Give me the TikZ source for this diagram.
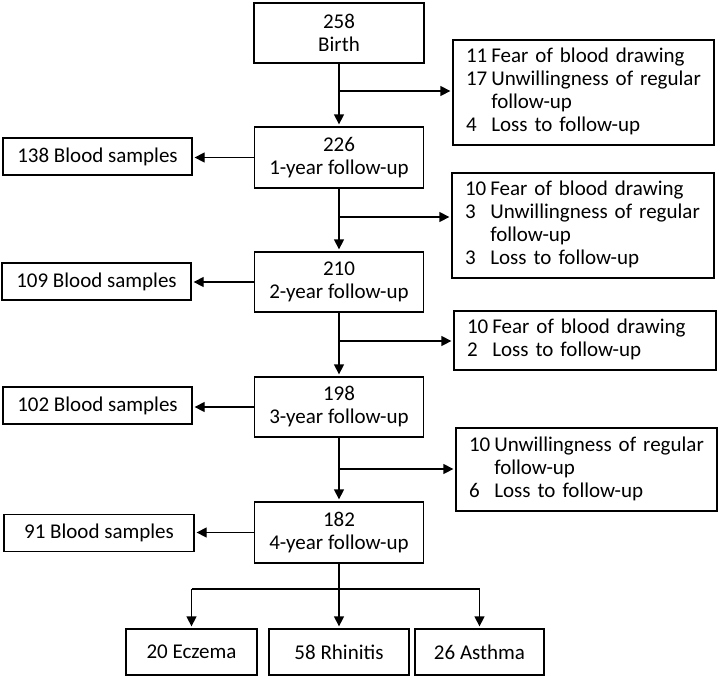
\documentclass[tikz,border=0pt]{standalone}
\usepackage{fontspec}
\setmainfont{Carlito}
\usetikzlibrary{arrows.meta}
\newcommand{\lowr}[1]{\raisebox{-3.5pt}{#1}}
\begin{document}
\begin{tikzpicture}[x=1pt,y=-1pt,
  every node/.style={font=\fontsize{21}{23}\selectfont},
  box/.style={draw,line width=1.3pt,inner sep=0pt,align=center},
  sidebox/.style={draw,line width=1.3pt,inner xsep=13pt,inner ysep=0pt,align=left},
  arr/.style={line width=1.3pt,-{Triangle[length=10pt,width=10pt]},shorten >=2pt},
  ln/.style={line width=1.3pt}]
\useasboundingbox (0,0) rectangle (722,678);
% main column
\node[box,minimum width=170,minimum height=60] (birth) at (339,33) {258\\Birth};
\node[box,minimum width=169,minimum height=61] (y1) at (339,157.5) {226\\1-year follow-up};
\node[box,minimum width=169,minimum height=60] (y2) at (339,282) {210\\2-year follow-up};
\node[box,minimum width=169,minimum height=60] (y3) at (339,407) {198\\3-year follow-up};
\node[box,minimum width=169,minimum height=61] (y4) at (339,532.5) {182\\4-year follow-up};
% blood samples
\node[box,minimum width=189,minimum height=37] (b1) at (97.5,156.5) {138 Blood samples};
\node[box,minimum width=189,minimum height=37] (b2) at (96.5,281.5) {109 Blood samples};
\node[box,minimum width=189,minimum height=37] (b3) at (97.5,405.5) {102 Blood samples};
\node[box,minimum width=190,minimum height=37] (b4) at (99,533) {91 Blood samples};
% exclusion boxes
\node[sidebox,text width=235,minimum height=105] (r1) at (583.5,92.5)
 {\lowr{\begin{tabular}{@{}l@{\hspace{4pt}}l@{}}11&Fear of blood drawing\\17&Unwillingness of regular\\&follow-up\\4&Loss to follow-up\end{tabular}}};
\node[sidebox,text width=236,minimum height=105] (r2) at (583,225.5)
 {\lowr{\begin{tabular}{@{}l@{\hspace{4pt}}l@{}}10&Fear of blood drawing\\3&Unwillingness of regular\\&follow-up\\3&Loss to follow-up\end{tabular}}};
\node[sidebox,text width=236,minimum height=59] (r3) at (585,340.5)
 {\lowr{\begin{tabular}{@{}l@{\hspace{4pt}}l@{}}10&Fear of blood drawing\\2&Loss to follow-up\end{tabular}}};
\node[sidebox,text width=235,minimum height=83] (r4) at (586.5,469.5)
 {\lowr{\begin{tabular}{@{}l@{\hspace{4pt}}l@{}}10&Unwillingness of regular\\&follow-up\\6&Loss to follow-up\end{tabular}}};
% outcomes
\node[box,minimum width=131,minimum height=46] (ecz) at (191.5,652) {20 Eczema};
\node[box,minimum width=140,minimum height=46] (rhi) at (339,652) {58 Rhinitis};
\node[box,minimum width=129,minimum height=46] (ast) at (479.5,652) {26 Asthma};
% junctions
\coordinate (j1) at (339,91);
\coordinate (j2) at (339,217);
\coordinate (j3) at (339,341);
\coordinate (j4) at (339,469);
\coordinate (bar) at (339,589);
% spine arrows
\draw[arr] (birth) -- (y1);
\draw[arr] (y1) -- (y2);
\draw[arr] (y2) -- (y3);
\draw[arr] (y3) -- (y4);
% side arrows
\draw[arr] (j1) -- (j1 -| r1.west);
\draw[arr] (j2) -- (j2 -| r2.west);
\draw[arr] (j3) -- (j3 -| r3.west);
\draw[arr] (j4) -- (j4 -| r4.west);
% blood arrows
\draw[arr] (y1.west) -- (y1.west -| b1.east);
\draw[arr] (y2.west) -- (y2.west -| b2.east);
\draw[arr] (y3.west) -- (y3.west -| b3.east);
\draw[arr] (y4.west) -- (y4.west -| b4.east);
% outcomes
\draw[ln] (y4.south) -- (bar);
\draw[ln] (bar -| ecz.north) -- (bar -| ast.north);
\draw[arr] (bar -| ecz.north) -- (ecz.north);
\draw[arr] (bar) -- (rhi.north);
\draw[arr] (bar -| ast.north) -- (ast.north);
\end{tikzpicture}
\end{document}
